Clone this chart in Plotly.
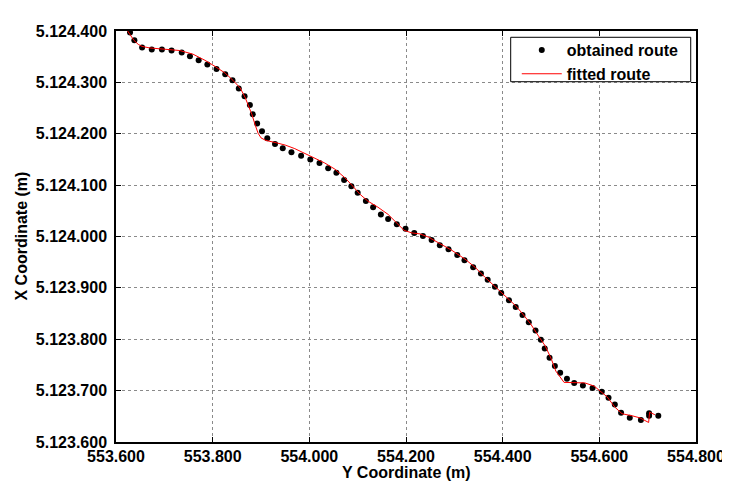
import plotly.graph_objects as go

# obtained route (Y coordinate = horizontal axis, X coordinate = vertical axis), metres
obt_y = [553629, 553638, 553654, 553674, 553695, 553715, 553736, 553753, 553771, 553789,
         553808, 553826, 553841, 553854, 553866, 553877, 553883, 553892, 553902, 553913,
         553929, 553945, 553963, 553983, 554002, 554021, 554039, 554056, 554072, 554087,
         554100, 554117, 554132, 554148, 554163, 554181, 554199, 554217, 554235, 554253,
         554270, 554288, 554306, 554321, 554339, 554355, 554369, 554384, 554397, 554413,
         554427, 554441, 554454, 554468, 554479, 554487, 554497, 554508, 554519, 554533,
         554548, 554566, 554586, 554605, 554619, 554632, 554645, 554663, 554686, 554703,
         554703, 554722]
obt_x = [5124397, 5124382, 5124368, 5124364, 5124364, 5124362, 5124358, 5124351, 5124343, 5124335,
         5124326, 5124316, 5124304, 5124288, 5124273, 5124256, 5124238, 5124220, 5124205, 5124191,
         5124180, 5124172, 5124164, 5124157, 5124150, 5124143, 5124133, 5124124, 5124110, 5124098,
         5124085, 5124069, 5124057, 5124043, 5124034, 5124024, 5124015, 5124007, 5124001, 5123993,
         5123983, 5123975, 5123964, 5123954, 5123940, 5123928, 5123916, 5123902, 5123890, 5123876,
         5123863, 5123847, 5123833, 5123817, 5123799, 5123782, 5123764, 5123748, 5123735, 5123723,
         5123715, 5123710, 5123705, 5123698, 5123686, 5123673, 5123657, 5123647, 5123643, 5123651,
         5123656, 5123651]

# fitted route
fit_y = [553624, 553631, 553637, 553646, 553654, 553670, 553701, 553732, 553759, 553784,
         553805, 553826, 553842, 553857, 553867, 553875, 553881, 553888, 553894, 553900,
         553910, 553929, 553950, 553970, 553991, 554012, 554032, 554053, 554074, 554088,
         554105, 554121, 554142, 554163, 554179, 554196, 554212, 554229, 554246, 554270,
         554295, 554322, 554343, 554363, 554384, 554405, 554426, 554440, 554457, 554473,
         554488, 554500, 554510, 554527, 554550, 554570, 554589, 554603, 554616, 554632,
         554647, 554668, 554684, 554702, 554704, 554715]
fit_x = [5124400, 5124390, 5124382, 5124374, 5124370, 5124367, 5124365, 5124362, 5124355, 5124343,
         5124331, 5124318, 5124304, 5124289, 5124271, 5124254, 5124238, 5124217, 5124201, 5124192,
         5124187, 5124183, 5124178, 5124171, 5124162, 5124152, 5124143, 5124131, 5124114, 5124100,
         5124082, 5124069, 5124057, 5124043, 5124028, 5124012, 5124007, 5124005, 5123999, 5123987,
         5123973, 5123956, 5123940, 5123921, 5123903, 5123884, 5123866, 5123851, 5123831, 5123808,
         5123787, 5123763, 5123738, 5123716, 5123716, 5123715, 5123709, 5123699, 5123688, 5123668,
         5123655, 5123651, 5123647, 5123638, 5123658, 5123653]

x_tickvals = [553600, 553800, 554000, 554200, 554400, 554600, 554800]
x_ticktext = ["553.600", "553.800", "554.000", "554.200", "554.400", "554.600", "554.800"]
y_tickvals = [5123600, 5123700, 5123800, 5123900, 5124000, 5124100, 5124200, 5124300, 5124400]
y_ticktext = ["5.123.600", "5.123.700", "5.123.800", "5.123.900", "5.124.000",
              "5.124.100", "5.124.200", "5.124.300", "5.124.400"]

FONT = "Liberation Sans, Arial, sans-serif"
fsize = 16

fig = go.Figure()
fig.add_trace(go.Scatter(x=obt_y, y=obt_x, mode="markers", name="obtained route",
                         marker=dict(color="black", size=6)))
fig.add_trace(go.Scatter(x=fit_y, y=fit_x, mode="lines", name="fitted route",
                         line=dict(color="red", width=1)))

axis_common = dict(showline=True, linecolor="black", linewidth=1.5, mirror="ticks",
                   ticks="inside", ticklen=5, tickcolor="black", tickwidth=1,
                   showgrid=True, gridcolor="#8a8a8a", griddash="dot", gridwidth=1,
                   zeroline=False, automargin=False,
                   tickfont=dict(family=FONT, size=fsize, color="black", weight="bold"))

fig.update_xaxes(range=[553600, 554800], tickvals=x_tickvals, ticktext=x_ticktext,
                 ticklabelstandoff=-1, **axis_common)
fig.update_yaxes(range=[5123600, 5124400], tickvals=y_tickvals, ticktext=y_ticktext,
                 ticklabelstandoff=4, **axis_common)

# page body adds an 8px offset; the paper is sized so the plot lands where the reference has it
fig.update_layout(
    width=722, height=473,
    margin=dict(l=108, r=34, t=23, b=39, autoexpand=False),
    paper_bgcolor="white", plot_bgcolor="white",
    font=dict(family=FONT, size=fsize, color="black"),
    showlegend=True,
    legend=dict(x=0.691, y=0.995, xanchor="left", yanchor="top",
                bgcolor="rgba(0,0,0,0)", borderwidth=0,
                font=dict(family=FONT, size=fsize, color="black", weight="bold"),
                tracegroupgap=0, itemwidth=40),
    shapes=[dict(type="rect", xref="paper", yref="paper", x0=0.6805, x1=0.9909,
                 y0=0.8766, y1=0.9847, line=dict(color="black", width=1),
                 fillcolor="white", layer="above")],
    annotations=[
        dict(text="<b>Y Coordinate (m)</b>", xref="paper", yref="paper", x=0.5, y=0,
             yshift=-30, xanchor="center", yanchor="middle", showarrow=False,
             font=dict(family=FONT, size=fsize, color="black")),
        dict(text="<b>X Coordinate (m)</b>", xref="paper", yref="paper", x=0, y=0.5,
             xshift=-95, xanchor="center", yanchor="middle", textangle=-90, showarrow=False,
             font=dict(family=FONT, size=fsize, color="black")),
    ],
)

fig.write_html("out.html")
